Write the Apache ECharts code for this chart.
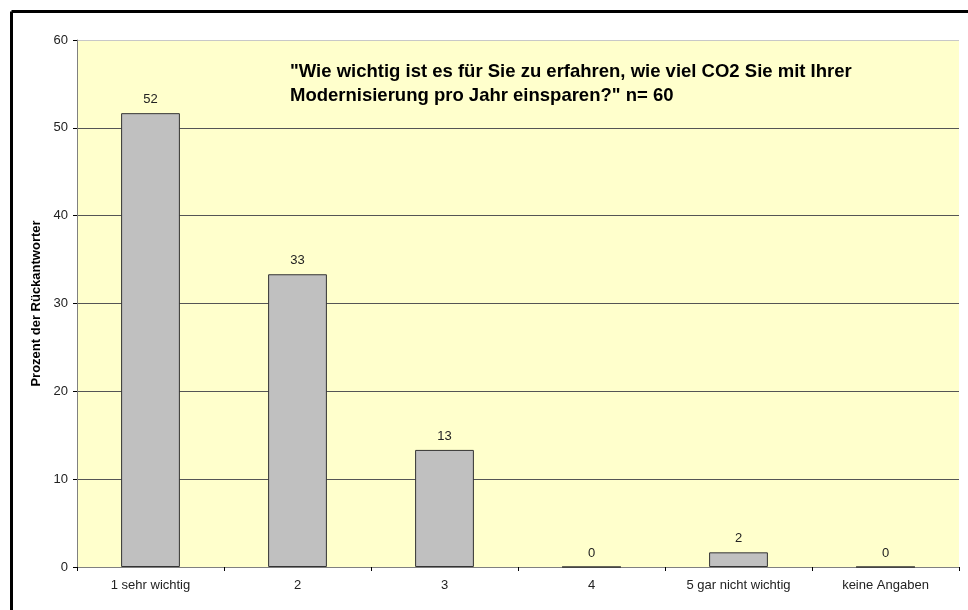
<!DOCTYPE html>
<html><head><meta charset="utf-8">
<script src="https://cdn.jsdelivr.net/npm/echarts@6/dist/echarts.min.js"></script>
<style>html,body{margin:0;padding:0;background:#fff}#c{width:968px;height:610px}</style>
</head><body><div id="c"></div>
<script>
const categories = ['1 sehr wichtig', '2', '3', '4', '5 gar nicht wichtig', 'keine Angaben'];
const percentValues = [51.67, 33.33, 13.33, 0, 1.67, 0];
const yTicks = { min: 0, max: 60, interval: 10 };
const titleText = '"Wie wichtig ist es für Sie zu erfahren, wie viel CO2 Sie mit Ihrer\nModernisierung pro Jahr einsparen?" n= 60';
const yAxisName = 'Prozent der Rückantworter';

const chart = echarts.init(document.getElementById('c'), null, {renderer: 'canvas'});
chart.setOption({
  animation: false,
  backgroundColor: '#fff',
  textStyle: { fontFamily: 'Liberation Sans, Arial, sans-serif' },
  title: {
    text: titleText, left: 285, top: 55,
    textStyle: { fontSize: 18.5, fontWeight: 'bold', color: '#000', lineHeight: 24, fontFamily: 'Liberation Sans, Arial, sans-serif' }
  },
  graphic: [
    { type: 'line', shape: { x1: 11.5, y1: 11.5, x2: 968, y2: 11.5 }, style: { stroke: '#000', lineWidth: 3 }, z: 10 },
    { type: 'line', shape: { x1: 11.5, y1: 11.5, x2: 11.5, y2: 610 }, style: { stroke: '#000', lineWidth: 3 }, z: 10 }
  ],
  grid: { left: 77, top: 40, right: 9, bottom: 43, show: true, backgroundColor: '#FFFFCC', borderWidth: 0 },
  xAxis: {
    type: 'category', data: categories,
    axisLine: { lineStyle: { color: '#808080', width: 1 } },
    axisTick: { show: true, length: 4, inside: false, lineStyle: { color: '#000' } },
    axisLabel: { color: '#222', fontSize: 13, margin: 12 }
  },
  yAxis: {
    type: 'value', min: yTicks.min, max: yTicks.max, interval: yTicks.interval,
    name: yAxisName, nameLocation: 'middle', nameGap: 32, nameRotate: 90,
    nameTextStyle: { fontSize: 13, fontWeight: 'bold', color: '#000' },
    axisLine: { show: true, lineStyle: { color: '#808080' } },
    axisTick: { show: true, length: 4, lineStyle: { color: '#000' } },
    axisLabel: { color: '#222', fontSize: 13, margin: 9 },
    splitLine: { show: true, lineStyle: { color: ['#555', '#555', '#555', '#555', '#555', '#555', '#c8c8c8'], width: 1 } }
  },
  series: [{
    type: 'bar', data: percentValues, barWidth: '40%',
    itemStyle: { color: '#C0C0C0', borderColor: '#333', borderWidth: 1 },
    label: { show: true, position: 'top', distance: 7, color: '#222', fontSize: 13,
      formatter: p => Math.round(p.value) }
  }]
});
</script></body></html>
